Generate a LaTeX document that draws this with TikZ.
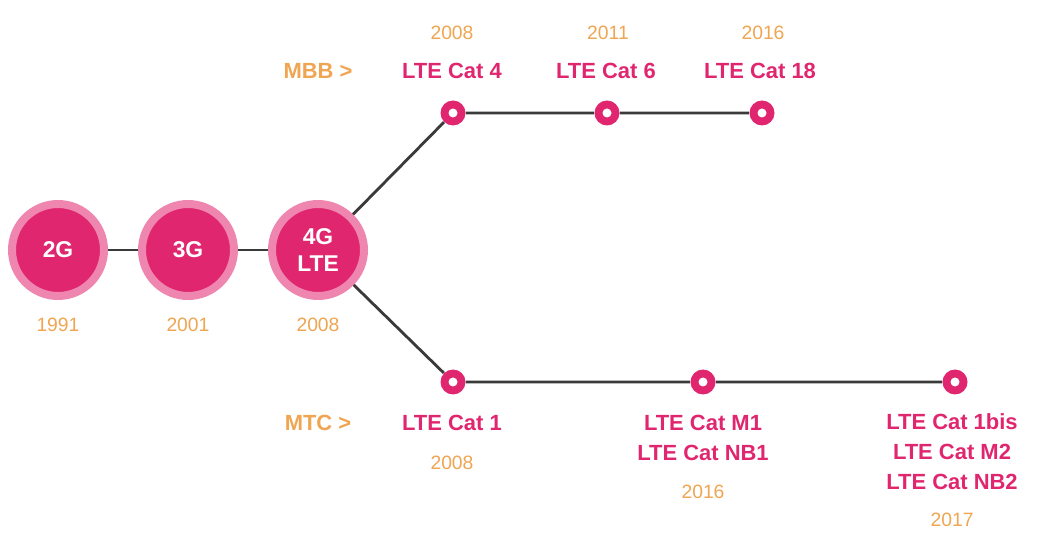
\documentclass[tikz,border=0pt]{standalone}
\usepackage{fontspec}
\setmainfont{Liberation Sans}
\usetikzlibrary{positioning}
\definecolor{magenta}{HTML}{E0266F}
\definecolor{ring}{HTML}{EE86B0}
\definecolor{gold}{HTML}{EFA552}
\definecolor{wire}{HTML}{3A3A3A}
\begin{document}
\begin{tikzpicture}[x=0.02cm,y=-0.02cm,
  gen node/.style={circle,fill=magenta,draw=ring,line width=0.16cm,minimum size=1.84cm,
    text=white,font=\bfseries\fontsize{13}{15}\selectfont,align=center,inner sep=0pt},
  dot node/.style={circle,fill=magenta,minimum size=0.5cm,inner sep=0pt,
    path picture={\fill[white] (path picture bounding box.center) circle (0.09cm);}},
  year/.style={text=gold,font=\fontsize{11}{13}\selectfont},
  cat/.style={text=magenta,font=\bfseries\fontsize{12.5}{17}\selectfont,align=center},
  band/.style={text=gold,font=\bfseries\fontsize{12.5}{15}\selectfont},
  line/.style={draw=wire,line width=1.6pt}]
  \useasboundingbox (0,0) rectangle (1038,543);
  % generations
  \node[gen node] (g2) at (58,250) {2G};
  \node[gen node] (g3) at (188,250) {3G};
  \node[gen node] (g4) at (318,250) {4G\\LTE};
  \node[year] at (58,325) {1991};
  \node[year] at (188,325) {2001};
  \node[year] at (318,325) {2008};
  % MBB branch
  \node[dot node] (b1) at (453,113) {};
  \node[dot node] (b2) at (607,113) {};
  \node[dot node] (b3) at (762,113) {};
  % MTC branch
  \node[dot node] (m1) at (453,382) {};
  \node[dot node] (m2) at (703,382) {};
  \node[dot node] (m3) at (955,382) {};
  \path[line] (g2) -- (g3) (g3) -- (g4);
  \path[line] (g4) -- (b1) -- (b2) -- (b3);
  \path[line] (g4) -- (m1) -- (m2) -- (m3);
  \node[band] at (318,71) {MBB >};
  \node[year] at (452,33) {2008};
  \node[cat] at (452,71) {LTE Cat 4};
  \node[year] at (608,33) {2011};
  \node[cat] at (606,71) {LTE Cat 6};
  \node[year] at (763,33) {2016};
  \node[cat] at (760,71) {LTE Cat 18};
  \node[band] at (318,423) {MTC >};
  \node[cat] at (452,423) {LTE Cat 1};
  \node[year] at (452,463) {2008};
  \node[cat] at (703,438) {LTE Cat M1\\LTE Cat NB1};
  \node[year] at (703,492) {2016};
  \node[cat] at (952,452) {LTE Cat 1bis\\LTE Cat M2\\LTE Cat NB2};
  \node[year] at (952,520) {2017};
\end{tikzpicture}
\end{document}
